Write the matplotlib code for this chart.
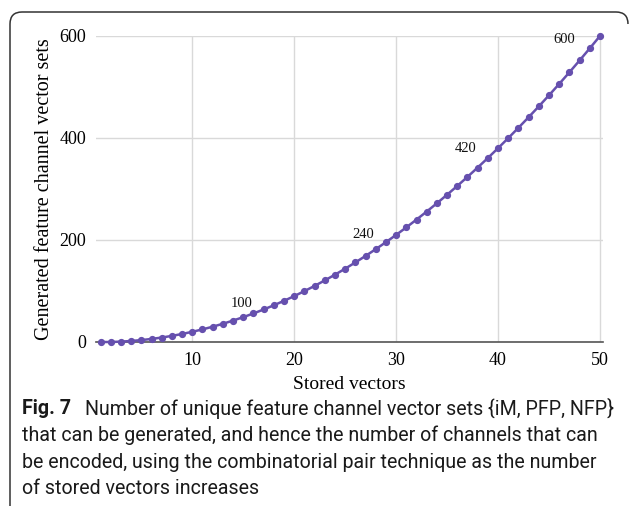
import matplotlib
matplotlib.use("Agg")
import matplotlib.pyplot as plt
from matplotlib.path import Path
from matplotlib.patches import PathPatch

# stored vectors (x) and generated feature channel vector sets (y)
stored = list(range(1, 51))
generated = [0, 0, 0.75, 2, 3.75, 6, 8.75, 12, 15.75, 20,
             24.75, 30, 35.75, 42, 48.75, 56, 63.75, 72, 80.75, 90,
             99.75, 110, 120.75, 132, 143.75, 156, 168.75, 182, 195.75, 210,
             224.75, 240, 255.75, 272, 288.75, 306, 323.75, 342, 360.75, 380,
             399.75, 420, 440.75, 462, 483.75, 506, 528.75, 552, 575.75, 600]

# text labels placed on the curve
label_text = ["100", "240", "420", "600"]
label_x = [14.85, 26.8, 36.8, 46.5]
label_y = [76, 210, 380, 594]

x_ticks = [10, 20, 30, 40, 50]
y_ticks = [0, 200, 400, 600]

caption_lines = [
    "Number of unique feature channel vector sets {iM, PFP, NFP}",
    "that can be generated, and hence the number of channels that can",
    "be encoded, using the combinatorial pair technique as the number",
    "of stored vectors increases",
]

W, H = 630, 509
fig = plt.figure(figsize=(W / 100, H / 100), dpi=100)

def fx(px):
    return px / W

def fy(py):
    return 1 - py / H

ax = fig.add_axes([fx(96), fy(342), fx(603) - fx(96), fy(36) - fy(342)])
purple = "#6650AE"
ax.plot(stored, generated, color=purple, lw=1.8, marker="o", ms=4.2,
        clip_on=False, zorder=3)

ax.set_xlim(0.55, 50.3)
ax.set_ylim(0, 600)
ax.set_xticks(x_ticks)
ax.set_yticks(y_ticks)
ax.grid(True, color="#d9d9d9", lw=1)
ax.set_axisbelow(True)
for s in ["left", "right", "top"]:
    ax.spines[s].set_visible(False)
ax.spines["bottom"].set_color("#555555")
ax.spines["bottom"].set_linewidth(1.2)
ax.tick_params(length=0, labelsize=13, pad=7)
for lab in ax.get_xticklabels() + ax.get_yticklabels():
    lab.set_fontfamily("Liberation Serif")

for t, x, y in zip(label_text, label_x, label_y):
    ax.text(x, y, t, ha="center", va="center", fontsize=10.5,
            family="Liberation Serif", color="#111111")

ax.set_xlabel("Stored vectors", fontsize=14, family="Liberation Serif", labelpad=5)
ax.set_ylabel("Generated feature channel vector sets", fontsize=14.5,
              family="Liberation Serif", labelpad=4)

# frame around figure (left and top, rounded corners)
r = 12
verts = [(fx(10), fy(506)), (fx(10), fy(12 + r)), (fx(10), fy(12)), (fx(10 + r), fy(12)),
         (fx(628 - r), fy(12)), (fx(628), fy(12)), (fx(628), fy(12 + r))]
codes = [Path.MOVETO, Path.LINETO, Path.CURVE3, Path.CURVE3,
         Path.LINETO, Path.CURVE3, Path.CURVE3]
fig.patches.append(PathPatch(Path(verts, codes), transform=fig.transFigure,
                             fill=False, edgecolor="#333333", lw=1.1))

# caption
cap_font = "Roboto"
cap_size = 14.1
cap_y = [408, 435, 462, 488]
fig.text(fx(22), fy(cap_y[0]), "Fig. 7", fontsize=cap_size, family=cap_font,
         weight="bold", va="center", color="#1a1a1a")
fig.text(fx(85), fy(cap_y[0]), caption_lines[0], fontsize=cap_size, family=cap_font,
         va="center", color="#1a1a1a")
for line, y in zip(caption_lines[1:], cap_y[1:]):
    fig.text(fx(22), fy(y), line, fontsize=cap_size, family=cap_font,
             va="center", color="#1a1a1a")

fig.savefig("out.png", dpi=100)
